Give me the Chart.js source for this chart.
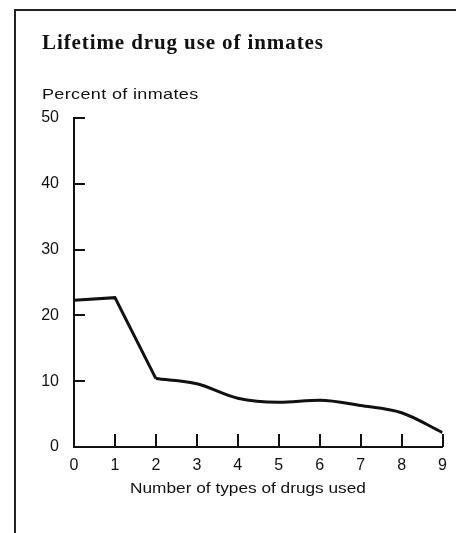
<!DOCTYPE html>
<html>
<head>
<meta charset="utf-8">
<script src="https://cdn.jsdelivr.net/npm/chart.js@4.4.1/dist/chart.umd.min.js"></script>
<style>
  body { margin: 0; background: #fff; }
  #wrap { position: relative; width: 456px; height: 533px; }
</style>
</head>
<body>
<div id="wrap"><canvas id="myChart" width="456" height="533"></canvas></div>
<script>
'use strict'
//////////////////
// Data
//////////////////
const drugTypes = [0, 1, 2, 3, 4, 5, 6, 7, 8, 9];
const percentInmates = [22.3, 22.7, 10.4, 9.6, 7.4, 6.8, 7.1, 6.3, 5.2, 2.2];
const yTicks = [0, 10, 20, 30, 40, 50];
const xTicks = [0, 1, 2, 3, 4, 5, 6, 7, 8, 9];

const chartTitle = 'Lifetime drug use of inmates';
const yLabel = 'Percent of inmates';
const xLabel = 'Number of types of drugs used';

const ink = '#111';
const sansFont = '"Liberation Sans", Arial, sans-serif';

// first part of the line is straight, the rest is a smooth curve
const points = drugTypes.map((x, i) => ({x: x, y: percentInmates[i]}));
const straightPart = points.slice(0, 3);
const curvedPart = points.slice(2);

// draws text a bit wider, like the old typeset labels
function wideText(ctx, text, x, y, stretch, align) {
  ctx.save();
  ctx.translate(x, y);
  ctx.scale(stretch, 1);
  ctx.textAlign = align;
  ctx.fillText(text, 0, 0);
  ctx.restore();
}

// frame, inner tick marks and the texts
const extrasPlugin = {
  id: 'extras',
  beforeDraw(chart) {
    const ctx = chart.ctx;
    ctx.save();
    ctx.strokeStyle = '#222';
    ctx.lineWidth = 2;
    ctx.beginPath();
    ctx.moveTo(15, 533);
    ctx.lineTo(15, 10);
    ctx.lineTo(456, 10);
    ctx.stroke();
    ctx.restore();
  },
  afterDraw(chart) {
    const ctx = chart.ctx;
    const xs = chart.scales.x;
    const ys = chart.scales.y;
    const area = chart.chartArea;
    ctx.save();
    ctx.strokeStyle = ink;
    ctx.lineWidth = 2;
    ctx.beginPath();
    for (let v of yTicks) {
      const py = Math.round(ys.getPixelForValue(v));
      ctx.moveTo(area.left, py);
      ctx.lineTo(area.left + 11, py);
    }
    for (let v of xTicks) {
      const px = Math.round(xs.getPixelForValue(v));
      ctx.moveTo(px, area.bottom);
      ctx.lineTo(px, area.bottom - 13);
    }
    ctx.stroke();

    ctx.fillStyle = ink;
    ctx.textBaseline = 'alphabetic';
    ctx.font = 'bold 21px "Liberation Serif", "Times New Roman", serif';
    ctx.letterSpacing = '0.9px';
    wideText(ctx, chartTitle, 42, 49, 1, 'left');

    ctx.font = '15px ' + sansFont;
    ctx.letterSpacing = '0.3px';
    wideText(ctx, yLabel, 42, 99, 1.2, 'left');

    ctx.letterSpacing = '0px';
    wideText(ctx, xLabel, 248, 493, 1.15, 'center');
    ctx.restore();
  }
};

const data = {
  datasets: [
    {
      data: straightPart,
      borderColor: ink,
      borderWidth: 3,
      pointRadius: 0,
      tension: 0
    },
    {
      data: curvedPart,
      borderColor: ink,
      borderWidth: 3,
      pointRadius: 0,
      cubicInterpolationMode: 'monotone'
    }
  ]
};

const config = {
  type: 'line',
  data: data,
  options: {
    responsive: false,
    animation: false,
    layout: { padding: { top: 118, right: 12, left: 0, bottom: 0 } },
    plugins: {
      legend: { display: false },
      tooltip: { enabled: false }
    },
    scales: {
      x: {
        type: 'linear',
        min: 0,
        max: 9,
        afterFit(scale) { scale.height = 86; },
        afterBuildTicks(scale) { scale.ticks = xTicks.map(v => ({value: v})); },
        grid: { display: false, drawTicks: false },
        border: { display: true, color: ink, width: 2 },
        ticks: {
          color: ink,
          padding: 9,
          font: { family: sansFont, size: 16 }
        }
      },
      y: {
        min: 0,
        max: 50,
        afterFit(scale) { scale.width = 74; },
        afterBuildTicks(scale) { scale.ticks = yTicks.map(v => ({value: v})); },
        grid: { display: false, drawTicks: false },
        border: { display: true, color: ink, width: 2 },
        ticks: {
          color: ink,
          padding: 15,
          font: { family: sansFont, size: 16 }
        }
      }
    }
  },
  plugins: [extrasPlugin]
};

let canvasChart = document.getElementById('myChart');
const myChart = new Chart(canvasChart, config);
</script>
</body>
</html>
